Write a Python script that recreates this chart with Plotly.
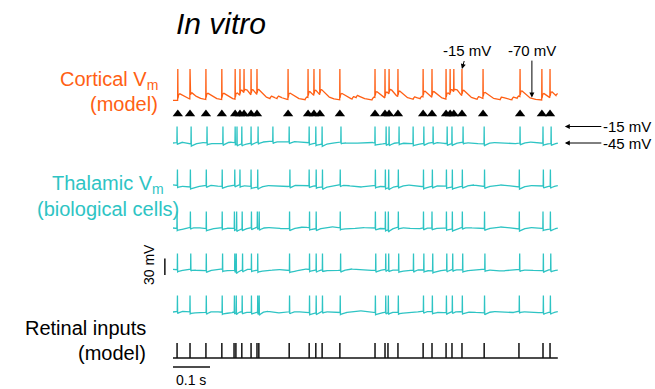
import numpy as np
import plotly.graph_objects as go

W, H = 655, 389
FONT = "Liberation Sans, Arial, sans-serif"
ORANGE = "#ff5f14"
TEAL = "#2ec4c4"

# ---------------- data (times in ms) ----------------
duration_ms = 1040
cortical_spikes = [13, 46, 89, 132, 168, 181, 192, 211, 227, 311, 365, 381, 397, 451,
                   546, 573, 584, 608, 676, 700, 738, 749, 759, 781, 838, 938, 997, 1019]
cortical_epsps = [262, 281, 357, 484, 495, 538, 649, 668, 822, 884, 916, 930, 1035]
retinal_inputs = [11, 46, 89, 132, 165, 170, 186, 211, 227, 232, 314, 368, 386, 403, 451,
                  546, 573, 581, 608, 676, 700, 738, 754, 781, 841, 935, 1000, 1019]
thal_cell1 = [11, 49, 92, 135, 168, 173, 186, 211, 230, 270, 314, 368, 386, 403, 454,
              546, 576, 584, 611, 649, 678, 703, 741, 754, 784, 841, 938, 1000, 1022]
thal_cell2 = [12, 47, 90, 133, 167, 181, 211, 229, 316, 368, 387, 404, 452,
              547, 574, 583, 609, 677, 701, 739, 755, 782, 842, 936, 1001, 1020]
thal_cell3 = [11, 47, 90, 133, 166, 172, 187, 212, 228, 233, 315, 369, 387, 452,
              547, 574, 582, 609, 677, 700, 739, 755, 782, 842, 936, 1000, 1020]
thal_cell4 = [12, 48, 90, 134, 167, 171, 188, 212, 229, 315, 369, 387, 404, 453,
              548, 575, 583, 610, 650, 678, 702, 740, 756, 783, 843, 937, 1001, 1021]
thal_cell5 = [12, 46, 90, 133, 166, 171, 187, 212, 229, 233, 315, 369, 387, 404, 452,
              547, 575, 582, 609, 677, 701, 739, 755, 782, 842, 936, 1001, 1020]
# baseline fluctuations (mV, every 25 ms)
thal_wiggle1 = [0, 2, -2, 1, 0, -2, 2, 0, -1, 2, 3, 3, 2, 3, 1, 0, -2, 0, 2, -1, 0, 2, -2, 0, 1, 0, -2, 0, 2, -1, 0, 2, 0, -2, 1, 0, -2, 0, 2, 0, -1, 0]
thal_wiggle2 = [2, 0, -2, 0, 2, -1, 0, 3, 0, -2, 1, 0, -2, 2, 0, 1, -2, 0, 3, 0, -2, 1, 0, -2, 0, 2, 0, -2, 1, 0, -2, 0, 2, -1, 0, 2, 0, -2, 1, 0, 0, 1]
thal_wiggle3 = [0, -2, 2, 0, -2, 1, 0, -1, 0, 2, 1, 0, -2, 0, 2, -1, 0, 2, 0, -2, 1, 0, 0, -2, 2, 0, -2, 1, 0, 0, -2, 2, 0, -1, 0, 2, 0, -2, 1, 0, -2, 0]
thal_wiggle4 = [1, 0, 2, -2, 0, 2, -1, 0, 2, 0, -2, 1, 0, -2, 2, 0, 1, -2, 0, 2, 0, -1, 0, 2, 0, -2, 1, 0, -2, 0, 2, 0, -1, 2, 0, -2, 0, 1, 0, -2, 1, 0]
thal_wiggle5 = [0, 2, 0, -2, 1, 0, -2, 2, 0, 0, 2, -2, 0, 1, 0, -2, 2, 0, -1, 0, 2, 0, -2, 1, 0, -2, 0, 2, 0, -1, 2, 0, 0, -2, 1, 0, -2, 2, 0, -1, 0, 1]
thal_cells = [thal_cell1, thal_cell2, thal_cell3, thal_cell4, thal_cell5]
thal_wiggles = [thal_wiggle1, thal_wiggle2, thal_wiggle3, thal_wiggle4, thal_wiggle5]

cortical_rest = -72.0
cortical_after = 12.0    # post-spike depolarising hump (mV)
epsp_amp = 5.0
spike_peak = -15.0
thal_rest = -45.0
thal_ahp = -4.0
scalebar_ms = 100
scalebar_mv = 30

# ---------------- build traces ----------------
dt = 0.5
t = np.arange(0, duration_ms + dt, dt)


def dexp(tt, tr=2.0, td=16.0):
    tc = np.clip(tt, 0, None)
    return np.where(tt > 0, np.exp(-tc / td) - np.exp(-tc / tr), 0.0)


kpeak = dexp(np.arange(0, 100, 0.05)).max()

v_ctx = np.full_like(t, cortical_rest)
for s in cortical_spikes:
    v_ctx += cortical_after * dexp(t - s) / kpeak
for e in cortical_epsps:
    v_ctx += epsp_amp * dexp(t - e) / kpeak
v_ctx = np.minimum(v_ctx, -52)
for s in cortical_spikes:
    v_ctx[int(round(s / dt))] = spike_peak

thal_traces = []
for cell, wig in zip(thal_cells, thal_wiggles):
    wt = np.linspace(0, duration_ms, len(wig))
    v = thal_rest + np.interp(t, wt, wig)
    for s in cell:
        v += np.where(t > s, thal_ahp * np.exp(-np.clip(t - s, 0, None) / 8.0), 0.0)
    for s in cell:
        v[int(round(s / dt))] = spike_peak
    thal_traces.append(v)

# ---------------- layout helpers ----------------
S = 0.55          # px per mV
X0 = 173          # px of t = 0
PXMS = 0.37       # px per ms


def dom(top, bot):
    return [1 - bot / H, 1 - top / H]


def rng(v_ref, px_ref, top, bot, s=S):
    return [v_ref - (bot - px_ref) / s, v_ref + (px_ref - top) / s]


fig = go.Figure()

# cortical (y)
fig.add_trace(go.Scatter(x=t, y=v_ctx, mode="lines", line=dict(color=ORANGE, width=1.3),
                         xaxis="x", yaxis="y", hoverinfo="skip"))
fig.add_trace(go.Scatter(x=cortical_spikes, y=[-97] * len(cortical_spikes), mode="markers",
                         marker=dict(symbol="triangle-up", size=9, color="black"),
                         xaxis="x", yaxis="y", hoverinfo="skip"))

thal_base_px = [143, 186, 228, 270, 312]
for i, v in enumerate(thal_traces):
    fig.add_trace(go.Scatter(x=t, y=v, mode="lines", line=dict(color=TEAL, width=1.3),
                             xaxis="x", yaxis=f"y{i + 2}", hoverinfo="skip"))

# retinal ticks (y7)
rx, ry = [], []
for r in retinal_inputs:
    rx += [r, r, None]
    ry += [0, 1, None]
fig.add_trace(go.Scatter(x=rx, y=ry, mode="lines", line=dict(color="#111", width=1.5),
                         xaxis="x", yaxis="y7", hoverinfo="skip"))
fig.add_trace(go.Scatter(x=[0, duration_ms], y=[0, 0], mode="lines", line=dict(color="#111", width=1.5),
                         xaxis="x", yaxis="y7", hoverinfo="skip"))
# time scale bar
fig.add_trace(go.Scatter(x=[0, scalebar_ms], y=[-0.6, -0.6], mode="lines", line=dict(color="#111", width=1.5),
                         xaxis="x", yaxis="y7", hoverinfo="skip"))
# voltage scale bar on 4th thalamic row
fig.add_trace(go.Scatter(x=[-22, -22], y=[-54, -54 + scalebar_mv], mode="lines",
                         line=dict(color="#111", width=1.5),
                         xaxis="x", yaxis="y5", hoverinfo="skip"))

axis_common = dict(visible=False, fixedrange=True)
layout = dict(
    width=W, height=H, margin=dict(l=0, r=0, t=0, b=0),
    paper_bgcolor="white", plot_bgcolor="white", showlegend=False,
    xaxis=dict(domain=[0, 1], range=[-X0 / PXMS, (W - X0) / PXMS], **axis_common),
    yaxis=dict(domain=dom(55, 122), range=rng(spike_peak, 69, 55, 122), anchor="x", **axis_common),
)
for i, b in enumerate(thal_base_px):
    layout[f"yaxis{i + 2}"] = dict(domain=dom(b - 25, b + 10), range=rng(thal_rest, b, b - 25, b + 10),
                                   anchor="x", **axis_common)
layout["yaxis7"] = dict(domain=dom(338, 375), range=[-(375 - 358) / 15, (358 - 338) / 15],
                        anchor="x", **axis_common)
fig.update_layout(**layout)


def txt(px, py, text, size, color="black", xanchor="center", **kw):
    return dict(x=px / W, y=1 - py / H, xref="paper", yref="paper", text=text, showarrow=False,
                font=dict(size=size, color=color, family=FONT), xanchor=xanchor, yanchor="middle", **kw)


ann = [
    txt(221, 23, "<i>In vitro</i>", 30),
    txt(160, 80, "Cortical V<sub>m</sub>", 20, ORANGE, "right"),
    txt(160, 104, "(model)", 20, ORANGE, "right"),
    txt(108, 185, "Thalamic V<sub>m</sub>", 20, TEAL),
    txt(108, 209, "(biological cells)", 20, TEAL),
    txt(148, 328, "Retinal inputs", 20, "black", "right"),
    txt(148, 353, "(model)", 20, "black", "right"),
    txt(174, 380, "0.1 s", 14, "black", "left"),
    txt(149, 265, "30 mV", 14, "black", textangle=-90),
]
arrow = dict(showarrow=True, arrowhead=2, arrowsize=1, arrowwidth=1, arrowcolor="black",
             font=dict(size=15, family=FONT, color="black"), axref="pixel", ayref="pixel")
ann += [
    dict(x=781, y=-15, xref="x", yref="y", text="-15 mV", ax=5, ay=-18, **arrow),
    dict(x=970, y=-67, xref="x", yref="y", text="-70 mV", ax=0, ay=-47, **arrow),
    dict(x=1059, y=-15, xref="x", yref="y2", text="-15 mV", ax=62, ay=0, **arrow),
    dict(x=1059, y=-45, xref="x", yref="y2", text="-45 mV", ax=62, ay=0, **arrow),
]
fig.update_layout(annotations=ann)

fig.write_html("out.html", config={"displayModeBar": False, "staticPlot": True},
               post_script="document.body.style.margin='0';document.body.style.overflow='hidden';")
